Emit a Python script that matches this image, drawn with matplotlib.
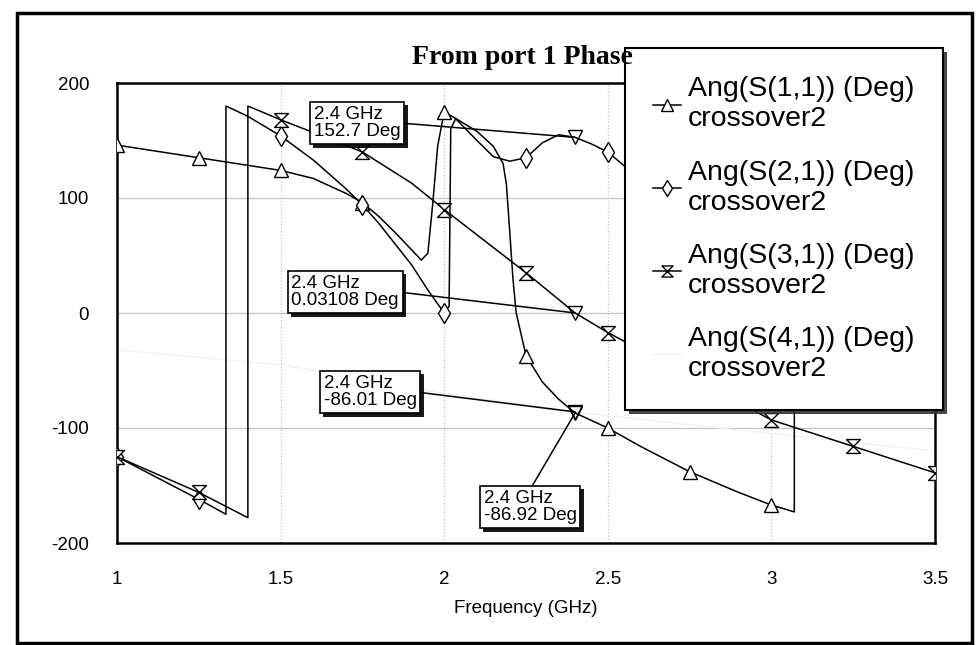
import numpy as np
import matplotlib.pyplot as plt
from matplotlib import patheffects
from matplotlib.patches import Rectangle

plt.rcParams['font.family'] = ['Liberation Sans', 'DejaVu Sans']
plt.rcParams['axes.unicode_minus'] = False

# Ang(S(1,1))
f11 = [1.0, 1.25, 1.5, 1.6, 1.7, 1.75, 1.8, 1.85, 1.9, 1.93, 1.95, 1.965, 1.98, 2.0,
       2.03, 2.1, 2.15, 2.18, 2.19, 2.2, 2.21, 2.22, 2.25, 2.3, 2.35, 2.4, 2.5, 2.6,
       2.75, 2.9, 3.0, 3.07, 3.07, 3.25, 3.5]
s11 = [146, 135, 124, 117, 104, 96, 84, 70, 55, 46, 52, 95, 145, 175,
       170, 158, 145, 130, 112, 72, 30, 0, -37, -60, -75, -86.92, -100, -116,
       -138, -156, -167, -173, 180, 150, 120]

# Ang(S(2,1))
f21 = [1.0, 1.25, 1.333, 1.333, 1.4, 1.5, 1.6, 1.7, 1.75, 1.8, 1.9, 1.95, 2.0,
       2.015, 2.02, 2.035, 2.1, 2.15, 2.2, 2.25, 2.3, 2.35, 2.4, 2.45, 2.5, 2.55,
       2.75, 3.0, 3.25, 3.5]
s21 = [-125, -162, -175, 180, 171, 154, 133, 108, 94, 78, 42, 20, 0,
       6, 160, 169, 150, 136, 132, 135, 148, 155, 152.7, 147, 140, 128,
       105, 85, 65, 45]

# Ang(S(3,1))
f31 = [1.0, 1.25, 1.4, 1.4, 1.5, 1.6, 1.75, 1.9, 2.0, 2.25, 2.4, 2.5, 2.75, 3.0, 3.25, 3.5]
s31 = [-125, -156, -178, 180, 168, 157, 140, 113, 90, 35, 0.03108, -17, -55, -93, -116, -139]

# Ang(S(4,1)) - barely visible on the scan
f41 = [1.0, 1.5, 2.0, 2.4, 3.0, 3.5]
s41 = [-32, -45, -70, -86.01, -105, -120]

labels = ['Ang(S(1,1)) (Deg)\ncrossover2', 'Ang(S(2,1)) (Deg)\ncrossover2',
          'Ang(S(3,1)) (Deg)\ncrossover2', 'Ang(S(4,1)) (Deg)\ncrossover2']

mark_f = 2.4
mark_txt = ['2.4 GHz\n152.7 Deg', '2.4 GHz\n0.03108 Deg', '2.4 GHz\n-86.01 Deg', '2.4 GHz\n-86.92 Deg']
mark_val = [152.7, 0.03108, -86.01, -86.92]


def every_quarter(f):
    f = np.asarray(f)
    idx = [i for i in range(len(f)) if np.isclose(f[i] * 4, round(f[i] * 4))]
    out = []
    for i in idx:
        if out and np.isclose(f[out[-1]], f[i]):
            continue
        out.append(i)
    return out


hourglass = [(-1, 1), (1, 1), (-1, -1), (1, -1), (-1, 1)]

fig = plt.figure(figsize=(9.76, 6.45), dpi=100)
ax = fig.add_axes([117 / 976, 1 - 543 / 645, (935 - 117) / 976, (543 - 83) / 645])

lw = 1.1
l1, = ax.plot(f11, s11, '-', color='black', lw=lw, marker='^', ms=10, mfc='white', mew=1,
              markevery=every_quarter(f11), zorder=3)
l2, = ax.plot(f21, s21, '-', color='black', lw=lw, marker='d', ms=10, mfc='white', mew=1,
              markevery=every_quarter(f21), zorder=3)
l3, = ax.plot(f31, s31, '-', color='black', lw=lw, marker=hourglass, ms=10, mfc='white', mew=1,
              markevery=every_quarter(f31), zorder=3)
l4, = ax.plot(f41, s41, '-', color='#f2f2f2', lw=1.0, zorder=2)

# markers at 2.4 GHz
for v in mark_val:
    ax.plot([mark_f], [v], 'v', ms=10, mfc='none', mec='black', mew=1, zorder=4)

ax.set_xlim(1, 3.5)
ax.set_ylim(-200, 200)
ax.set_xticks([1, 1.5, 2, 2.5, 3, 3.5])
ax.set_xticklabels(['1', '1.5', '2', '2.5', '3', '3.5'])
ax.set_yticks([-200, -100, 0, 100, 200])
ax.tick_params(length=0, labelsize=13.5)
ax.tick_params(axis='x', pad=20)
ax.tick_params(axis='y', pad=20)
ax.grid(axis='y', color='#c4c4c4', lw=0.9)
ax.grid(axis='x', color='#c4c4c4', lw=0.9, ls=':')
for sp in ax.spines.values():
    sp.set_linewidth(1.8)

ax.set_xlabel('Frequency (GHz)', fontsize=13.5, labelpad=9)

# marker annotation boxes (centre in figure pixels)
box_xy = [(357, 522), (345, 353), (370, 253), (530, 138)]
box_rel = [(1, 0.5), (1, 0.5), (1, 0.5), (0.5, 1)]
for txt, v, xy, rp in zip(mark_txt, mark_val, box_xy, box_rel):
    t = ax.annotate(txt, xy=(mark_f, v), xycoords='data', xytext=xy, textcoords='figure pixels',
                    ha='center', va='center', fontsize=13.5, multialignment='left', linespacing=1.05,
                    bbox=dict(boxstyle='square,pad=0.2', fc='white', ec='black', lw=1.2),
                    arrowprops=dict(arrowstyle='-', color='black', lw=1.1, relpos=rp,
                                    shrinkA=0, shrinkB=0),
                    zorder=6)
    t.get_bbox_patch().set_path_effects([
        patheffects.SimplePatchShadow(offset=(2.5, -2.5), shadow_rgbFace='black', alpha=0.9),
        patheffects.Normal()])

leg = ax.legend([l1, l2, l3, l4], labels, loc='upper left',
                bbox_to_anchor=(625 / 976, 1 - 48 / 645), bbox_transform=fig.transFigure,
                borderaxespad=0, fontsize=20.5, frameon=True, fancybox=False, shadow=False,
                handlelength=0.95, handletextpad=0.25, labelspacing=0.95, borderpad=1.0,
                markerscale=0.8, edgecolor='black', framealpha=1)
for t in leg.get_texts():
    t.set_linespacing(1.2)
leg.get_frame().set_linewidth(1.5)
leg.get_frame().set_path_effects([
    patheffects.SimplePatchShadow(offset=(3, -3), shadow_rgbFace='#333333', alpha=0.9),
    patheffects.Normal()])
leg.set_zorder(7)

fig.text(522 / 976, 1 - 57 / 645, 'From port 1 Phase', ha='center', va='center',
         fontsize=20, fontweight='bold', family='Liberation Serif')

# outer frame of the scanned figure
fig.patches.append(Rectangle((17 / 976, 2 / 645), (972 - 17) / 976, (632 - 2) / 645,
                             transform=fig.transFigure, fill=False, ec='black', lw=2.5))

fig.savefig('out.png', dpi=100)
